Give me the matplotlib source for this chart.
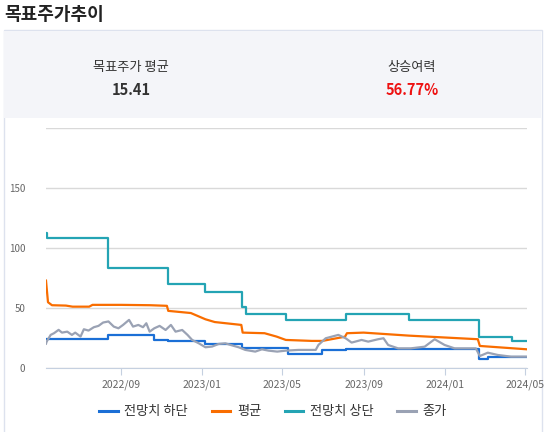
import numpy as np
import pandas as pd
import matplotlib
matplotlib.use("Agg")
import matplotlib.pyplot as plt
import matplotlib.dates as mdates
from matplotlib.patches import Rectangle
from matplotlib.lines import Line2D

plt.rcParams['font.family'] = ['Noto Sans CJK KR', 'DejaVu Sans']

# 전망치 상단 (step)
high_dates = ['2022-05-11', '2022-05-13', '2022-08-12', '2022-11-10', '2023-01-06', '2023-03-02',
              '2023-03-08', '2023-05-07', '2023-08-05', '2023-11-08', '2024-02-22', '2024-04-12',
              '2024-05-04']
high_vals = [112.5, 108.3, 83.8, 70.3, 63.3, 50.8, 45.0, 40.3, 45.0, 40.3, 26.4, 23.0, 23.0]

# 전망치 하단 (step)
low_dates = ['2022-05-11', '2022-08-12', '2022-10-21', '2022-11-10', '2023-01-06', '2023-03-02',
             '2023-05-10', '2023-07-01', '2023-08-05', '2024-02-22', '2024-03-07', '2024-05-04']
low_vals = [24.2, 27.8, 23.6, 22.8, 20.0, 16.7, 11.9, 15.3, 15.8, 7.8, 9.7, 9.7]

# 평균
avg_dates = ['2022-05-11', '2022-05-14', '2022-05-20', '2022-06-10', '2022-06-20', '2022-07-15',
             '2022-07-20', '2022-09-01', '2022-10-15', '2022-11-09', '2022-11-11', '2022-12-15',
             '2023-01-06', '2023-01-20', '2023-03-01', '2023-03-03', '2023-04-05', '2023-04-23',
             '2023-05-07', '2023-06-15', '2023-07-01', '2023-08-04', '2023-08-07', '2023-09-01',
             '2023-11-08', '2024-02-20', '2024-02-23', '2024-05-04']
avg_vals = [73.0, 55.0, 52.5, 52.2, 51.3, 51.3, 52.8, 52.8, 52.5, 52.0, 47.8, 46.0,
            40.8, 38.5, 36.1, 29.7, 29.2, 26.4, 23.6, 22.8, 22.8, 26.3, 29.2, 29.7,
            27.2, 24.2, 18.6, 15.8]

# 종가
close_dates = ['2022-05-11', '2022-05-12', '2022-05-18', '2022-05-23', '2022-05-30', '2022-06-04',
               '2022-06-12', '2022-06-19', '2022-06-24', '2022-07-02', '2022-07-07', '2022-07-14',
               '2022-07-22', '2022-07-29', '2022-08-05', '2022-08-13', '2022-08-21', '2022-08-28',
               '2022-09-04', '2022-09-13', '2022-09-19', '2022-09-27', '2022-10-04', '2022-10-09',
               '2022-10-14', '2022-10-21', '2022-10-29', '2022-11-07', '2022-11-15', '2022-11-22',
               '2022-12-02', '2022-12-10', '2022-12-17', '2022-12-27', '2023-01-06', '2023-01-16',
               '2023-01-26', '2023-02-05', '2023-02-13', '2023-02-25', '2023-03-07', '2023-03-22',
               '2023-04-01', '2023-04-11', '2023-04-24', '2023-05-07', '2023-05-26', '2023-06-21',
               '2023-06-25', '2023-07-06', '2023-07-25', '2023-08-05', '2023-08-14', '2023-08-29',
               '2023-09-08', '2023-09-23', '2023-10-01', '2023-10-08', '2023-10-23', '2023-11-11',
               '2023-12-02', '2023-12-17', '2024-01-01', '2024-01-16', '2024-02-09', '2024-02-17',
               '2024-02-23', '2024-03-06', '2024-03-21', '2024-04-10', '2024-05-04']
close_vals = [20.5, 22.2, 27.8, 29.2, 32.0, 29.7, 30.5, 27.8, 29.7, 26.4, 32.5, 31.4,
              34.2, 35.3, 38.1, 39.0, 34.7, 33.3, 36.1, 40.3, 34.7, 36.1, 34.2, 37.5,
              30.5, 33.3, 35.3, 31.9, 36.1, 30.5, 31.9, 27.8, 23.6, 20.8, 17.5, 18.1,
              20.3, 20.8, 19.4, 17.5, 15.3, 13.9, 15.8, 14.7, 13.9, 14.7, 15.3, 15.3,
              19.4, 25.0, 27.8, 25.0, 21.4, 23.6, 22.2, 24.2, 25.0, 19.4, 16.6, 16.6,
              18.0, 24.2, 19.4, 16.6, 16.6, 16.6, 10.2, 13.0, 11.1, 9.7, 9.7]

legend_labels = ['전망치 하단', '평균', '전망치 상단', '종가']
colors = ['#1b6fd6', '#f96d00', '#24a4b4', '#9aa2b4']

fig = plt.figure(figsize=(5.46, 4.32), dpi=100)
W, H = 546, 432

# outer container and header
fig.patches.append(Rectangle((3.5 / W, -0.01), 538 / W, (H - 30) / H + 0.01, transform=fig.transFigure,
                             facecolor='white', edgecolor='#dde2ee', lw=1, zorder=0))
fig.patches.append(Rectangle((4 / W, (H - 118) / H), 537 / W, 87.5 / H, transform=fig.transFigure,
                             facecolor='#f4f5f9', edgecolor='none', zorder=0))

fig.text(4 / W, 1 - 14 / H, '목표주가추이', fontsize=13, fontweight='bold', color='#222222',
         va='center', ha='left')
fig.text(131 / W, 1 - 68 / H, '목표주가 평균', fontsize=9.5, color='#333333', ha='center', va='center')
fig.text(131 / W, 1 - 90 / H, '15.41', fontsize=10.5, fontweight='bold', color='#333333',
         ha='center', va='center')
fig.text(412 / W, 1 - 68 / H, '상승여력', fontsize=9.5, color='#333333', ha='center', va='center')
fig.text(412 / W, 1 - 90 / H, '56.77%', fontsize=10.5, fontweight='bold', color='#ee1111',
         ha='center', va='center')

ax = fig.add_axes([46 / W, (H - 368.3) / H, 481 / W, 240.3 / H])
ax.set_zorder(2)
ax.set_facecolor('none')

hd = pd.to_datetime(high_dates)
ld = pd.to_datetime(low_dates)
ad = pd.to_datetime(avg_dates)
cd = pd.to_datetime(close_dates)

ax.step(ld, low_vals, where='post', color=colors[0], lw=1.6, zorder=3)
ax.plot(ad, avg_vals, color=colors[1], lw=1.6, zorder=3)
ax.step(hd, high_vals, where='post', color=colors[2], lw=1.6, zorder=3)
ax.plot(cd, close_vals, color=colors[3], lw=1.6, zorder=4)

ax.set_xlim(pd.Timestamp('2022-05-11'), pd.Timestamp('2024-05-04'))
ax.set_ylim(0, 200)
ax.set_yticks([0, 50, 100, 150, 200])
ax.set_yticklabels(['0', '50', '100', '150', ''])
ax.grid(axis='y', color='#d9d9d9', lw=1)
ax.set_axisbelow(True)
for s in ['top', 'right', 'left']:
    ax.spines[s].set_visible(False)
ax.spines['bottom'].set_color('#c5d0e0')
ax.tick_params(axis='y', length=0, pad=15, labelsize=7, labelcolor='#666666')
ticks = pd.to_datetime(['2022-09-01', '2023-01-01', '2023-05-01', '2023-09-01', '2024-01-01',
                        '2024-05-01'])
ax.set_xticks(ticks)
ax.xaxis.set_major_formatter(mdates.DateFormatter('%Y/%m'))
ax.tick_params(axis='x', length=5, color='#c5d0e0', labelsize=7.5, labelcolor='#666666', pad=3)

handles = [Line2D([], [], color=c, lw=2.2) for c in colors]
leg = fig.legend(handles, legend_labels, loc='center', bbox_to_anchor=(0.5, 1 - 412 / H), ncol=4,
                 frameon=False, fontsize=9.5, handlelength=1.4, handletextpad=0.5, columnspacing=1.8)
for t in leg.get_texts():
    t.set_fontweight('medium')
    t.set_color('#333333')

fig.savefig('out.png', dpi=100)
